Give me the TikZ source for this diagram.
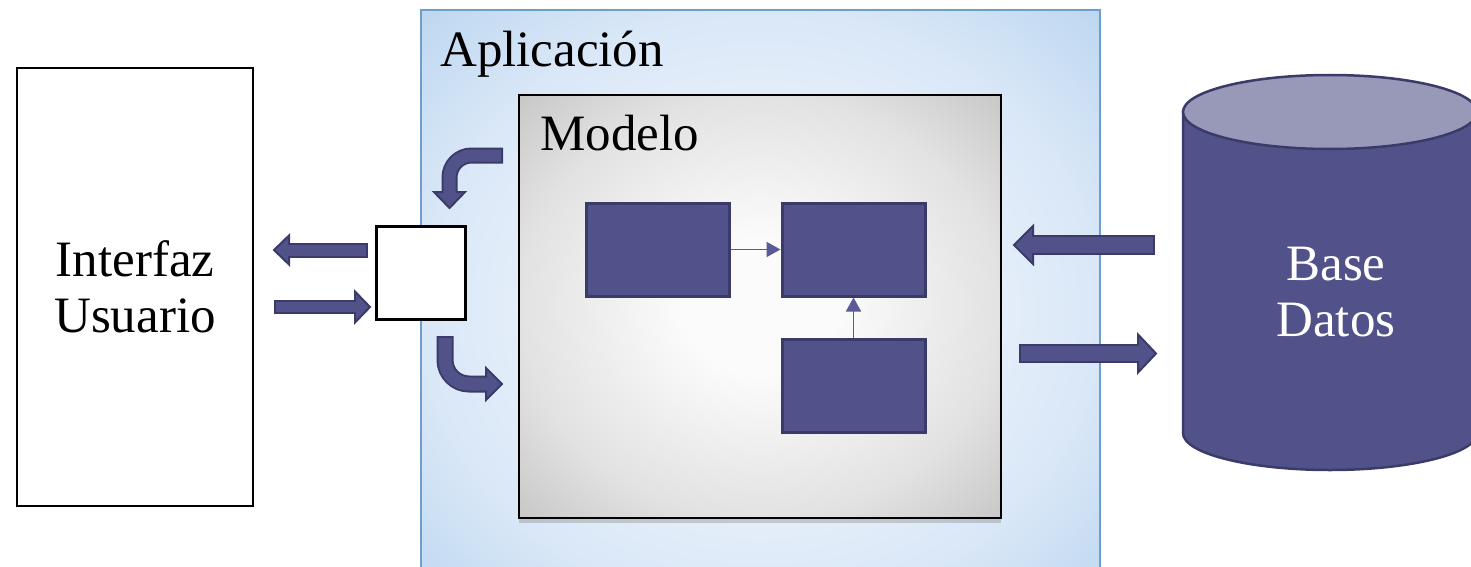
\documentclass[tikz,border=0pt]{standalone}
\usepackage{fontspec}
\setmainfont{Liberation Serif}
\usetikzlibrary{shadows,arrows.meta}
\definecolor{dbfill}{HTML}{52528A}
\definecolor{dbline}{HTML}{3B3B69}
\definecolor{dbtop}{HTML}{9898B8}
\definecolor{thinarr}{HTML}{5A5A96}
\definecolor{appline}{HTML}{6E9FCB}
\definecolor{appout}{HTML}{BBD6F0}
\definecolor{appmid}{HTML}{D9E7F7}
\definecolor{appin}{HTML}{F0F5FD}
\definecolor{modout}{HTML}{C6C6C6}
\definecolor{modmid}{HTML}{E2E2E2}
\definecolor{modin}{HTML}{FBFBFB}
\pgfdeclareradialshading{appshade}{\pgfpoint{0bp}{0bp}}{color(0bp)=(appin); color(10bp)=(appin); color(25bp)=(appmid); color(36bp)=(appout); color(50bp)=(appout)}
\pgfdeclareradialshading{modshade}{\pgfpoint{0bp}{0bp}}{color(0bp)=(modin); color(8bp)=(modin); color(25bp)=(modmid); color(36bp)=(modout); color(50bp)=(modout)}
\begin{document}
\begin{tikzpicture}[x=1pt,y=-1pt,
  bigtext/.style={font=\fontsize{51}{56}\selectfont},
  purplebox/.style={draw=dbline,fill=dbfill,line width=3pt,inner sep=0pt,minimum width=143pt,minimum height=93pt},
  thinlink/.style={draw=thinarr,line width=1.6pt,-{Triangle[length=14pt,width=15pt]}},
  arrbord/.style={draw=dbline},
  arrfill/.style={draw=dbfill},
  arrhead/.style={fill=dbfill,draw=dbline,line width=2pt,line join=miter},
]
\useasboundingbox (0,0) rectangle (1471,567);
\clip (0,0) rectangle (1471,567);

% Interfaz Usuario
\node[draw=black,line width=1.5pt,fill=white,minimum width=236pt,minimum height=438pt,
      bigtext,align=center,inner sep=0pt] (ui) at (135,287) {Interfaz\\Usuario};

% Aplicacion container
\node[draw=appline,line width=1.5pt,shading=appshade,
      minimum width=679pt,minimum height=600pt,inner sep=0pt] (app) at (760.5,310) {};
\node[bigtext,anchor=base west,inner sep=0pt] (applabel) at (440,67) {Aplicación};

% Modelo
\node[draw=black,line width=2pt,shading=modshade,
      minimum width=482pt,minimum height=423pt,inner sep=0pt,
      drop shadow={opacity=0.35,shadow xshift=0pt,shadow yshift=-5pt}] (model) at (760,306.5) {};
\node[bigtext,anchor=base west,inner sep=0pt] (modlabel) at (540,150) {Modelo};

% inner boxes
\node[purplebox] (b1) at (657.5,249.5) {};
\node[purplebox] (b2) at (853.5,249.5) {};
\node[purplebox] (b3) at (853.5,385.5) {};
\draw[thinlink] (b1.east) -- (b2.west);
\draw[thinlink] (b3.north) -- (b2.south);

% small square
\node[draw=black,line width=3pt,fill=white,minimum width=89pt,minimum height=93pt,inner sep=0pt] (sq) at (420.5,272.5) {};

% left straight block arrows
\coordinate (la1t) at (368,250);
\coordinate (la1b) at (289,250);
\draw[arrbord,line width=15pt] (la1t) -- (la1b);
\draw[arrhead] (289,235.5) -- (274,250) -- (289,264.5) -- cycle;
\draw[arrfill,line width=11pt] (366,250) -- (287,250);

\coordinate (la2t) at (274,307);
\coordinate (la2b) at (355,307);
\draw[arrbord,line width=14pt] (la2t) -- (la2b);
\draw[arrhead] (355,291.5) -- (370,307) -- (355,322.5) -- cycle;
\draw[arrfill,line width=10pt] (276,307) -- (357,307);

% curved block arrows
\draw[arrbord,line width=16pt,rounded corners=22pt] (503,155.5) -- (449.5,155.5) -- (449.5,192);
\draw[arrhead] (434,192) -- (449.5,208) -- (465,192) -- cycle;
\draw[arrfill,line width=12pt,rounded corners=22pt] (501,155.5) -- (449.5,155.5) -- (449.5,194);

\draw[arrbord,line width=17pt,rounded corners=24pt] (445,336) -- (445,384) -- (486,384);
\draw[arrhead] (486,368) -- (502,384) -- (486,400) -- cycle;
\draw[arrfill,line width=13pt,rounded corners=24pt] (445,338) -- (445,384) -- (488,384);

% database cylinder
\draw[fill=dbfill,draw=dbline,line width=2.5pt]
  (1183,112) -- (1183,433) arc[start angle=180,end angle=0,x radius=147,y radius=37] -- (1477,112) -- cycle;
\draw[fill=dbtop,draw=dbline,line width=2.5pt] (1330,112) ellipse[x radius=147,y radius=37];
\node[bigtext,text=white,align=center,inner sep=0pt] (db) at (1336,292) {Base\\Datos};

% right straight block arrows
\draw[arrbord,line width=20pt] (1155,245) -- (1033,245);
\draw[arrhead] (1033,226) -- (1014,245) -- (1033,264) -- cycle;
\draw[arrfill,line width=16pt] (1153,245) -- (1031,245);

\draw[arrbord,line width=19pt] (1019,353.5) -- (1138,353.5);
\draw[arrhead] (1138,334.5) -- (1156,353.5) -- (1138,372.5) -- cycle;
\draw[arrfill,line width=15pt] (1021,353.5) -- (1140,353.5);
\end{tikzpicture}
\end{document}
